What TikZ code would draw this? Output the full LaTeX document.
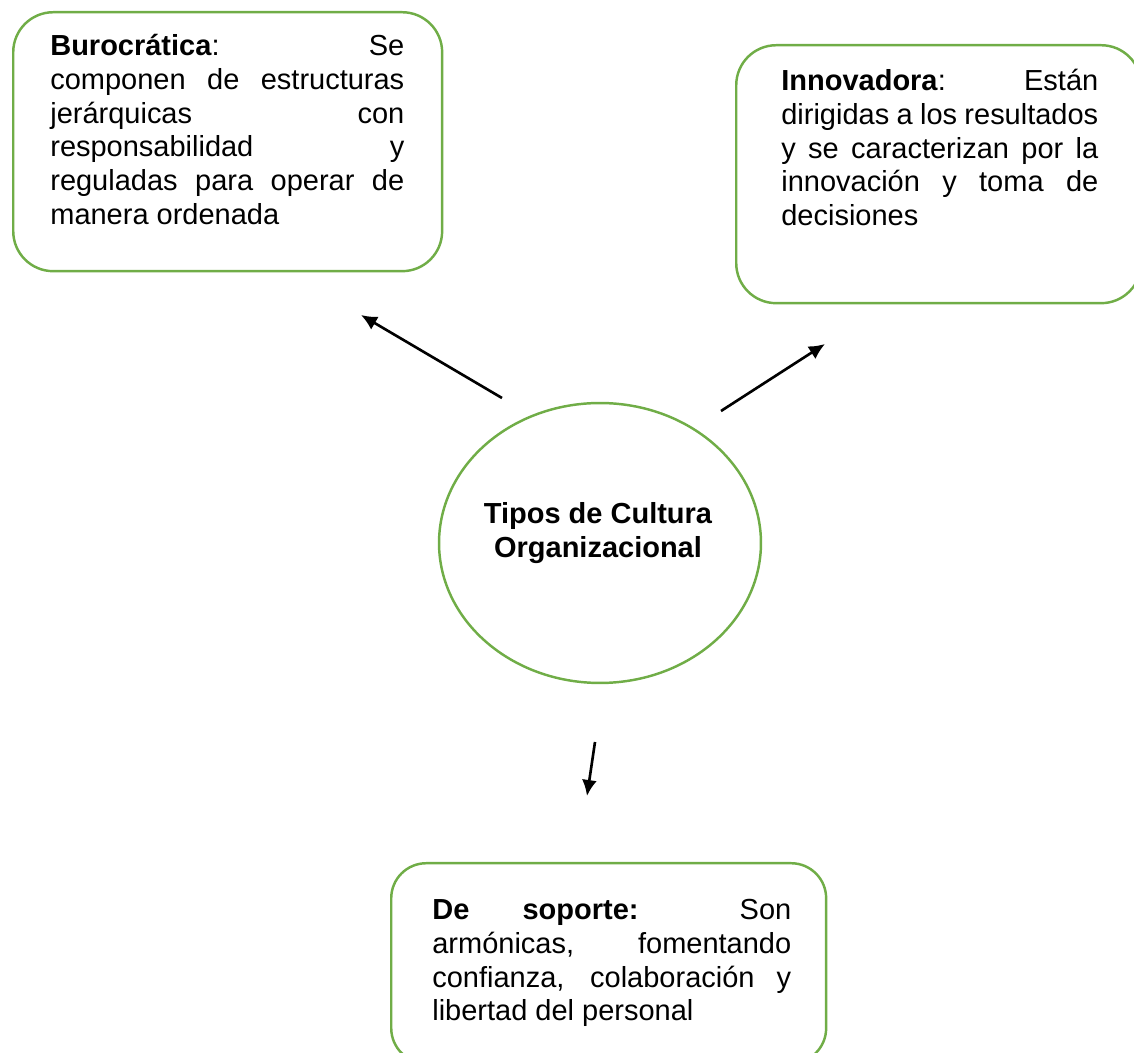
\documentclass[tikz,border=0pt]{standalone}
\usepackage{fontspec}
\setmainfont{Liberation Sans}
\usepackage{xcolor}
\usetikzlibrary{arrows.meta}
\usetikzlibrary{shapes}
\definecolor{verde}{RGB}{112,173,71}

\begin{document}
\begin{tikzpicture}[x=0.02cm,y=-0.02cm,
    caja/.style={draw=verde,line width=1.4pt,rounded corners=0.8cm,inner sep=0pt,anchor=north west},
    texto/.style={anchor=north west,inner sep=0pt,align=justify,
      font=\fontsize{16.5}{19.2}\selectfont},
    flecha/.style={line width=1.5pt,-{Latex[length=0.32cm,width=0.3cm]}}]

    \useasboundingbox (0,0) rectangle (1134,1053);

    \node[caja,minimum width=8.58cm,minimum height=5.18cm] (buro) at (12,11) {};
    \node[caja,minimum width=8.1cm,minimum height=5.16cm] (inno) at (735,44) {};
    \node[caja,minimum width=8.7cm,minimum height=4cm,rounded corners=0.7cm] (sopo) at (390,862) {};
    \node[draw=verde,line width=1.4pt,ellipse,minimum width=6.44cm,minimum height=5.6cm] (centro) at (600,543) {};

    \node[texto,text width=7.08cm] (burotxt) at (50,34) {\textbf{Burocrática}: Se\linebreak
        componen de estructuras\linebreak jerárquicas con\linebreak responsabilidad y\linebreak
        reguladas para operar de\linebreak manera ordenada};
    \node[texto,text width=6.34cm] (innotxt) at (781,69) {\textbf{Innovadora}: Están\linebreak
        dirigidas a los resultados\linebreak y se caracterizan por la\linebreak
        innovación y toma de\linebreak decisiones};
    \node[texto,text width=7.18cm] (sopotxt) at (432,899) {\textbf{De soporte:} Son\linebreak
        armónicas, fomentando\linebreak confianza, colaboración y\linebreak libertad del personal};
    \node[align=center,inner sep=0pt,font=\bfseries\fontsize{16.5}{19.2}\selectfont] (centrotxt) at (598,533)
        {Tipos de Cultura\\Organizacional};

    \coordinate (s1) at (502,398); \coordinate (t1) at (361,315);
    \coordinate (s2) at (721,411); \coordinate (t2) at (825,344);
    \coordinate (s3) at (595,742); \coordinate (t3) at (587,796);

    \draw[flecha] (s1) -- (t1);
    \draw[flecha] (s2) -- (t2);
    \draw[flecha] (s3) -- (t3);

\end{tikzpicture}
\end{document}
